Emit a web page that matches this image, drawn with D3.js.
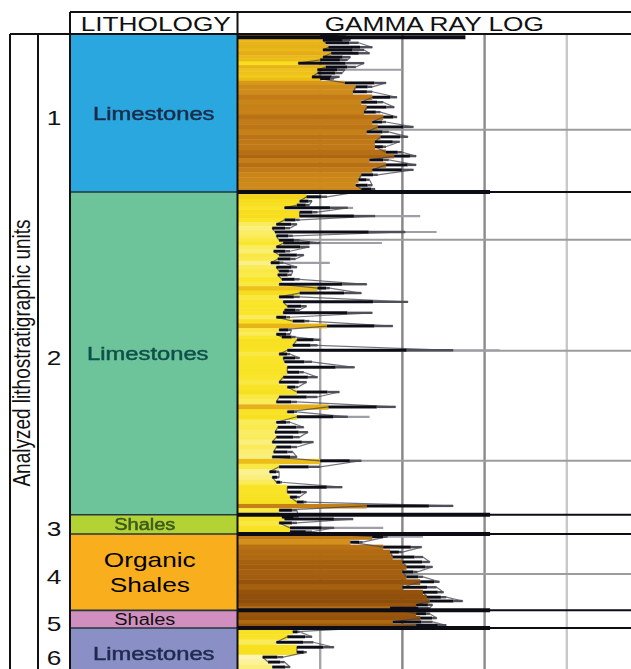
<!DOCTYPE html>
<html>
<head>
<meta charset="utf-8">
<script src="https://cdn.jsdelivr.net/npm/d3@7"></script>
<style>
  html, body { margin: 0; padding: 0; background: #fff; }
  svg { display: block; }
</style>
</head>
<body>
<svg id="chart" width="631" height="669"></svg>
<script>
// ---------------------------------------------------------------
// Lithostratigraphic units (depth in m below the top of the log)
// ---------------------------------------------------------------
const unitNumbers = [1, 2, 3, 4, 5, 6];
const unitTops    = [0, 14.36, 43.7, 45.45, 52.4, 54.0];
const unitBases   = [14.36, 43.7, 45.45, 52.4, 54.0, 58.5];
const unitLithology = [
  ["Limestones"], ["Limestones"], ["Shales"],
  ["Organic", "Shales"], ["Shales"], ["Limestones"]
];

// Gamma ray log, API units: [depth, curve minimum, curve maximum] per stratum
const gammaSamples = [
  // unit 1
  [0.1, 30, 39], [0.55, 31, 41], [0.8, 32, 44], [1.2, 33, 49], [1.45, 31, 46],
  [1.75, 34, 48], [2.1, 31, 41], [2.35, 30, 40], [2.65, 22, 46], [3.0, 32, 43],
  [3.25, 29, 39], [3.55, 29, 38], [3.9, 27, 37], [4.05, 30, 35], [4.45, 39, 54],
  [4.8, 43, 49], [5.25, 42, 49], [5.75, 49, 58], [6.2, 45, 53], [6.65, 47, 57],
  [7.1, 46, 52], [7.55, 53, 58], [8.0, 49, 54], [8.45, 51, 64], [8.9, 47, 55],
  [9.35, 52, 62], [9.8, 50, 59], [10.25, 50, 54], [10.75, 54, 60], [11.1, 57, 65],
  [11.45, 48, 55], [11.9, 54, 65], [12.35, 49, 64], [12.8, 45, 51], [13.25, 44, 48],
  [13.75, 43, 49], [14.1, 45, 50],
  // unit 2
  [14.8, 25, 32.5], [15.2, 22.5, 27], [15.55, 21.5, 26], [15.8, 17, 40], [16.2, 22.5, 29],
  [16.55, 22.5, 50], [16.9, 17, 22.5], [17.3, 14, 21.5], [17.65, 12.5, 19], [18.0, 13.5, 61],
  [18.35, 14, 20], [18.75, 15, 22.5], [19.0, 16.5, 30], [19.35, 14, 26], [19.75, 13, 19],
  [20.1, 15, 24], [20.45, 14.5, 21], [20.8, 12, 16.5], [21.2, 14, 21.5], [21.55, 15, 20],
  [21.9, 14.5, 19.5], [22.3, 16, 22.5], [22.75, 15, 47], [23.1, 29, 33.5], [23.55, 22.5, 45],
  [23.9, 15, 22.5], [24.35, 16.5, 62], [24.75, 18, 25], [25.1, 17, 22.5], [25.35, 16.5, 49],
  [25.75, 14, 19], [26.1, 20, 26], [26.55, 32.5, 56.5], [26.9, 15, 19.5], [27.3, 14, 19],
  [27.55, 16, 21], [27.8, 21.5, 30], [28.3, 20, 29], [28.75, 18, 78.5], [29.1, 15, 19],
  [29.45, 16.5, 22.5], [29.8, 17, 27], [30.3, 18, 42.5], [30.75, 18, 24], [31.2, 16.5, 29],
  [31.65, 15, 25], [32.1, 18, 22], [32.55, 21.5, 37], [33.0, 15, 29], [33.45, 14, 21.5],
  [33.9, 33, 57.5], [34.35, 18, 21.5], [34.8, 21.5, 40], [35.3, 14, 19], [35.75, 14.5, 24],
  [36.2, 13.5, 25.5], [36.65, 14, 22.5], [37.1, 12.5, 27.5], [37.55, 14, 21.5], [38.0, 13, 20],
  [38.45, 12.5, 21.5], [38.8, 30, 45], [39.35, 15, 30], [39.8, 11.5, 15], [40.3, 12.5, 15],
  [40.75, 14, 16], [41.2, 18, 38], [41.65, 18, 25], [42.1, 19, 22.5], [42.55, 21.5, 25],
  [42.9, 47, 78.5], [43.3, 15, 21.5],
  // unit 3
  [43.9, 16, 22], [44.1, 17, 42], [44.45, 15, 21.5], [44.9, 19, 35], [45.25, 19, 27],
  // unit 4
  [45.7, 49, 54.5], [46.2, 41, 45.5], [46.65, 53, 67], [47.1, 55.5, 60], [47.55, 56.5, 67.5],
  [48.0, 60, 70], [48.45, 61.5, 71], [48.9, 60, 65.5], [49.35, 61.5, 67.5], [49.8, 66.5, 73.5],
  [50.3, 60, 72.5], [50.75, 67.5, 75], [51.2, 69, 76], [51.55, 70, 82], [51.9, 65, 71],
  [52.2, 55.5, 70],
  // unit 5
  [52.7, 65, 70], [53.1, 66.5, 72.5], [53.45, 56.5, 71], [53.75, 65, 76],
  // unit 6
  [54.35, 20, 22.5], [54.8, 18, 27], [55.3, 14, 27.5], [55.75, 21.5, 35], [56.2, 21.5, 25],
  [56.65, 9, 16.5], [57.1, 11, 17], [57.55, 12.5, 19]
];

// Faint high readings beyond the curve: [depth, API]
const gammaTails = [
  [3.25, 60], [15.8, 42], [16.55, 66.5], [18.0, 72.5], [19.0, 52.5], [20.8, 33.5],
  [28.75, 95.5], [34.8, 48], [44.9, 53], [45.7, 67.5]
];

// Strong single readings at the top of the log and at unit contacts: [depth, API]
const gammaPeaks = [
  [0.3, 83], [14.36, 92], [43.7, 92], [45.45, 92], [52.4, 92], [54.0, 92]
];

// Log track scale: API ticks, depth grid
const apiTicks = [30, 60, 90, 120];
const depthGrid = [8.7, 18.7, 28.8, 38.8, 49.1];

// ---------------------------------------------------------------
// Layout and styles
// ---------------------------------------------------------------
const W = 631, H = 669;
const headerTop = 12, logTop = 34;
const colOuterL = 10, colNumL = 38, colLithL = 70, colLogL = 237.5;
const FONT = "'Liberation Sans', Arial, Helvetica, sans-serif";
const STRETCH = 1.25;

const unitFill = ["#2aa7df", "#6dc49b", "#b3d334", "#f9ae1d", "#d18fbf", "#8a8fc6"];
const labelColor = ["#1b2d4a", "#12504a", "#3b5a1e", "#000000", "#111111", "#1f2b4f"];
const labelSize = [19, 19, 16, 21, 16, 19];
const labelNudge = [0, -6, -9, -4, -9, 0];
const labelSoft = [true, true, true, false, false, true];
const gridColor = ["#a6a6a6", "#858585", "#8a8a8a", "#c9c9c9"];

const svg = d3.select("#chart");
svg.append("rect").attr("width", W).attr("height", H).attr("fill", "#fff");

const defs = svg.append("defs");
defs.append("filter").attr("id", "soft")
  .append("feGaussianBlur").attr("stdDeviation", 0.55);
defs.append("filter").attr("id", "trace")
  .append("feGaussianBlur").attr("stdDeviation", 0.4);

const y = d3.scaleLinear().domain([0, 57.73]).range([logTop, H]);
const x = d3.scaleLinear().domain([0, 150]).range([238, 649]);

const grColour = d3.scaleLinear()
  .domain([10, 13, 16, 22, 28, 34, 42, 50, 58, 66, 76])
  .range(["#fcf4b0", "#faee72", "#f9e52a", "#f7df1e", "#f0c61a", "#e4ac18",
          "#d08c1a", "#c07816", "#ab6510", "#97540c", "#80450a"])
  .clamp(true);

function stretchedText(g, str, cx, baseline, size, color) {
  return g.append("text")
    .attr("transform", `translate(${cx},${baseline}) scale(${STRETCH},1)`)
    .attr("text-anchor", "middle")
    .attr("font-family", FONT)
    .attr("font-size", size)
    .attr("fill", color)
    .text(str);
}

// ---------------------------------------------------------------
// Gamma ray track
// ---------------------------------------------------------------
const logG = svg.append("g");

// grid
logG.selectAll("line.vgrid").data(apiTicks).join("line")
  .attr("class", "vgrid")
  .attr("x1", d => x(d)).attr("x2", d => x(d))
  .attr("y1", logTop).attr("y2", H)
  .attr("stroke", (d, i) => gridColor[i]).attr("stroke-width", 2.4);
logG.selectAll("line.hgrid").data(depthGrid).join("line")
  .attr("class", "hgrid")
  .attr("x1", x(0)).attr("x2", W)
  .attr("y1", d => y(d)).attr("y2", d => y(d))
  .attr("stroke", "#9c9c9c").attr("stroke-width", 2);

// faint tails
logG.selectAll("line.tail").data(gammaTails).join("line")
  .attr("class", "tail")
  .attr("x1", x(0)).attr("x2", d => x(d[1]))
  .attr("y1", d => y(d[0])).attr("y2", d => y(d[0]))
  .attr("stroke", "#9e9ea6").attr("stroke-width", 2.2);

// shaded strata: each sample fills its band within its unit
function unitIndex(d) {
  for (let i = 0; i < unitTops.length; i++) if (d >= unitTops[i] && d < unitBases[i]) return i;
  return unitTops.length - 1;
}
const bands = gammaSamples.map((s, i) => {
  const u = unitIndex(s[0]);
  const prev = gammaSamples[i - 1], next = gammaSamples[i + 1];
  const top = (prev && unitIndex(prev[0]) === u) ? (prev[0] + s[0]) / 2 : unitTops[u];
  const base = (next && unitIndex(next[0]) === u) ? (s[0] + next[0]) / 2 : unitBases[u];
  return { top, base, lo: s[1], hi: s[2], depth: s[0] };
});
logG.selectAll("rect.band").data(bands).join("rect")
  .attr("class", "band")
  .attr("x", x(0))
  .attr("y", d => y(d.top))
  .attr("width", d => x(d.lo) - x(0))
  .attr("height", d => y(d.base) - y(d.top) + 0.4)
  .attr("fill", d => grColour(d.lo));

// curve: connector through the strata, then one dash per stratum
const traceG = logG.append("g").attr("filter", "url(#trace)");
const curvePts = [];
gammaSamples.forEach((s, i) => {
  const a = [s[1], s[0]], b = [s[2], s[0]];
  if (i % 2 === 0) curvePts.push(a, b); else curvePts.push(b, a);
});
const curve = d3.line().x(p => x(p[0])).y(p => y(p[1]));
traceG.append("path").datum(curvePts)
  .attr("d", curve).attr("fill", "none")
  .attr("stroke", "#44444e").attr("stroke-width", 1.2).attr("stroke-opacity", 0.75)
  .attr("stroke-linejoin", "round");
// dark part of each dash
traceG.selectAll("line.dash").data(bands).join("line")
  .attr("class", "dash")
  .attr("x1", d => x(d.lo)).attr("x2", d => x(d.lo + (d.hi - d.lo) * 0.72))
  .attr("y1", d => y(d.depth)).attr("y2", d => y(d.depth))
  .attr("stroke", "#111119").attr("stroke-width", 3);
// lighter end of each dash
traceG.selectAll("line.dashEnd").data(bands).join("line")
  .attr("class", "dashEnd")
  .attr("x1", d => x(d.lo + (d.hi - d.lo) * 0.72)).attr("x2", d => x(d.hi))
  .attr("y1", d => y(d.depth)).attr("y2", d => y(d.depth))
  .attr("stroke", "#50505a").attr("stroke-width", 2.4);

// unit contacts
logG.selectAll("line.contact").data(unitTops.slice(1)).join("line")
  .attr("class", "contact")
  .attr("x1", x(0)).attr("x2", W)
  .attr("y1", d => y(d)).attr("y2", d => y(d))
  .attr("stroke", "#0c0c14").attr("stroke-width", 2);

// strong peaks
logG.selectAll("line.peak").data(gammaPeaks).join("line")
  .attr("class", "peak")
  .attr("x1", x(0)).attr("x2", d => x(d[1]))
  .attr("y1", d => y(d[0])).attr("y2", d => y(d[0]))
  .attr("stroke", "#0c0c14").attr("stroke-width", 4);

// ---------------------------------------------------------------
// Lithology column and unit numbers
// ---------------------------------------------------------------
const lithG = svg.append("g");
lithG.selectAll("rect.unit").data(unitNumbers).join("rect")
  .attr("class", "unit")
  .attr("x", colLithL).attr("width", colLogL - colLithL)
  .attr("y", (d, i) => y(unitTops[i]))
  .attr("height", (d, i) => y(unitBases[i]) - y(unitTops[i]))
  .attr("fill", (d, i) => unitFill[i]);
lithG.selectAll("line.ucontact").data(unitTops.slice(1)).join("line")
  .attr("class", "ucontact")
  .attr("x1", colLithL).attr("x2", colLogL)
  .attr("y1", d => y(d)).attr("y2", d => y(d))
  .attr("stroke", "#26363a").attr("stroke-width", 1.6);

const lithCx = (colLithL + colLogL) / 2;
unitNumbers.forEach((n, i) => {
  const mid = (y(unitTops[i]) + y(unitBases[i])) / 2;
  const lines = unitLithology[i];
  const fs = labelSize[i];
  const lh = fs * 1.17;
  const g = lithG.append("g");
  if (labelSoft[i]) g.attr("filter", "url(#soft)");
  lines.forEach((t, k) => {
    const base = mid + 0.36 * fs + (k - (lines.length - 1) / 2) * lh;
    stretchedText(g, t, lithCx + labelNudge[i], base, fs, labelColor[i])
      .attr("stroke", labelSoft[i] ? labelColor[i] : "none")
      .attr("stroke-width", labelSoft[i] ? 0.5 : 0);
  });
  stretchedText(lithG, String(n), (colNumL + colLithL) / 2, mid + 12, 21, "#111");
});

// ---------------------------------------------------------------
// Frame, headers and side title
// ---------------------------------------------------------------
const frame = svg.append("g").attr("stroke", "#111").attr("stroke-width", 2).attr("fill", "none");
frame.append("line").attr("x1", colLithL).attr("x2", W).attr("y1", headerTop).attr("y2", headerTop);
frame.append("line").attr("x1", colOuterL).attr("x2", W).attr("y1", logTop).attr("y2", logTop);
frame.append("line").attr("x1", colOuterL).attr("x2", colOuterL).attr("y1", logTop).attr("y2", H);
frame.append("line").attr("x1", colNumL).attr("x2", colNumL).attr("y1", logTop).attr("y2", H);
frame.append("line").attr("x1", colLithL).attr("x2", colLithL).attr("y1", headerTop).attr("y2", H);
frame.append("line").attr("x1", colLogL).attr("x2", colLogL).attr("y1", headerTop).attr("y2", H);

stretchedText(svg, "LITHOLOGY", (colLithL + colLogL) / 2 + 2, 30.5, 21, "#111");
stretchedText(svg, "GAMMA RAY LOG", (colLogL + W) / 2, 30.5, 21, "#111");

svg.append("text")
  .attr("transform", `translate(${(colOuterL + colNumL) / 2 + 6},353) scale(${STRETCH},1) rotate(-90)`)
  .attr("text-anchor", "middle")
  .attr("font-family", FONT)
  .attr("font-size", 19)
  .attr("fill", "#111")
  .text("Analyzed lithostratigraphic units");
</script>
</body>
</html>
